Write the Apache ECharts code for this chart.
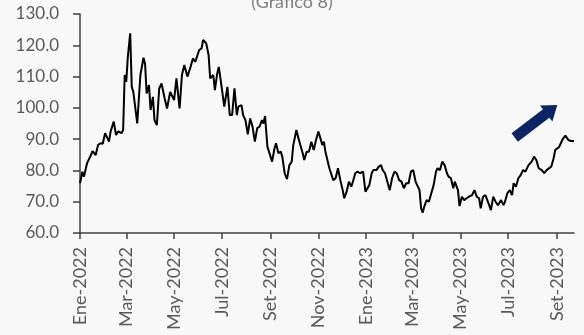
<!DOCTYPE html>
<html>
<head>
<meta charset="utf-8">
<script src="https://cdn.jsdelivr.net/npm/echarts@6/dist/echarts.min.js"></script>
<style>
html,body{margin:0;padding:0;background:#f8f8f8;}
#c{width:584px;height:335px;}
</style>
</head>
<body>
<div id="c"></div>
<script>
const titleText = '(Gráfico 8)';
const monthNames = ['Ene','Feb','Mar','Abr','May','Jun','Jul','Ago','Set','Oct','Nov','Dic'];
const yTicks = [60, 70, 80, 90, 100, 110, 120, 130];
const dates = [
'2022-01-01','2022-01-04','2022-01-06','2022-01-08','2022-01-10','2022-01-14','2022-01-17','2022-01-21','2022-01-24','2022-01-27','2022-01-30',
'2022-02-02','2022-02-07','2022-02-09','2022-02-13','2022-02-16','2022-02-19','2022-02-23','2022-02-25','2022-02-27',
'2022-03-01','2022-03-03','2022-03-06','2022-03-08','2022-03-10','2022-03-15','2022-03-19','2022-03-23','2022-03-25','2022-03-27','2022-03-30',
'2022-04-01','2022-04-04','2022-04-06','2022-04-09','2022-04-12','2022-04-15','2022-04-19','2022-04-22','2022-04-26',
'2022-05-01','2022-05-04','2022-05-08','2022-05-11','2022-05-14','2022-05-18','2022-05-22','2022-05-25','2022-05-28',
'2022-06-02','2022-06-05','2022-06-07','2022-06-11','2022-06-14','2022-06-16','2022-06-20','2022-06-22','2022-06-25','2022-06-27','2022-06-30',
'2022-07-04','2022-07-08','2022-07-11','2022-07-14','2022-07-17','2022-07-20','2022-07-22','2022-07-26','2022-07-28','2022-07-31',
'2022-08-03','2022-08-06','2022-08-09','2022-08-12','2022-08-15','2022-08-18','2022-08-21','2022-08-23','2022-08-25','2022-08-28','2022-08-30',
'2022-09-03','2022-09-06','2022-09-08','2022-09-11','2022-09-14','2022-09-16','2022-09-19','2022-09-22','2022-09-25','2022-09-28','2022-09-30',
'2022-10-04','2022-10-06','2022-10-09','2022-10-12','2022-10-14','2022-10-17','2022-10-20','2022-10-23','2022-10-26','2022-10-29',
'2022-11-01','2022-11-03','2022-11-06','2022-11-08','2022-11-10','2022-11-12','2022-11-15','2022-11-17','2022-11-20','2022-11-23','2022-11-26','2022-11-29',
'2022-12-02','2022-12-04','2022-12-07','2022-12-10','2022-12-13','2022-12-15','2022-12-18','2022-12-21','2022-12-24','2022-12-28','2022-12-31',
'2023-01-02','2023-01-05','2023-01-08','2023-01-10','2023-01-14','2023-01-17','2023-01-20','2023-01-22','2023-01-25','2023-01-28','2023-01-31',
'2023-02-03','2023-02-06','2023-02-09','2023-02-12','2023-02-15','2023-02-18','2023-02-21','2023-02-24','2023-02-27',
'2023-03-02','2023-03-05','2023-03-07','2023-03-10','2023-03-12','2023-03-14','2023-03-16','2023-03-19','2023-03-22','2023-03-25','2023-03-28','2023-03-31',
'2023-04-02','2023-04-05','2023-04-08','2023-04-11','2023-04-14','2023-04-16','2023-04-19','2023-04-22','2023-04-24','2023-04-28','2023-04-30',
'2023-05-03','2023-05-06','2023-05-09','2023-05-12','2023-05-16','2023-05-19','2023-05-22','2023-05-25','2023-05-27','2023-05-30',
'2023-06-02','2023-06-06','2023-06-09','2023-06-12','2023-06-15','2023-06-18','2023-06-22','2023-06-25','2023-06-27','2023-06-30',
'2023-07-03','2023-07-06','2023-07-08','2023-07-11','2023-07-14','2023-07-17','2023-07-20','2023-07-23','2023-07-27','2023-07-31',
'2023-08-03','2023-08-06','2023-08-09','2023-08-13','2023-08-16','2023-08-19','2023-08-21','2023-08-25','2023-08-28','2023-08-30',
'2023-09-01','2023-09-04','2023-09-06','2023-09-09','2023-09-12','2023-09-16','2023-09-19','2023-09-23'
];
const values = [
75.9,79.6,78.0,78.3,82.3,84.4,86.2,84.9,88.1,88.7,88.5,
91.9,89.2,92.4,95.6,91.3,92.5,91.9,92.9,110.5,
108.3,116.3,123.8,106.7,105.1,95.0,110.5,116.0,114.0,104.6,107.3,
99.3,103.5,96.1,94.5,106.2,107.8,103.0,99.8,105.1,
102.5,109.4,99.8,110.5,113.7,110.0,113.1,115.8,114.7,
118.5,119.0,121.7,120.6,116.9,109.4,110.5,105.7,111.0,113.1,107.8,
100.4,106.7,97.7,97.7,106.2,97.7,100.4,100.9,97.7,96.1,
91.5,96.6,94.0,89.2,93.5,94.0,96.1,95.0,97.4,87.6,87.0,
82.8,87.0,88.7,85.5,86.0,84.4,79.1,77.2,81.7,82.8,88.1,
92.9,90.8,88.1,85.5,83.3,86.0,86.0,89.2,86.5,89.7,
92.4,90.8,88.1,89.2,86.0,86.0,80.7,80.1,76.9,77.5,80.7,76.9,
73.7,71.1,73.2,76.4,74.8,76.4,79.1,79.6,79.1,79.6,73.2,
73.7,75.3,79.1,80.1,80.1,81.2,81.7,80.1,79.1,76.4,73.7,
77.5,79.6,79.1,76.9,76.4,74.3,75.9,75.9,79.6,
80.1,76.4,75.3,73.7,67.9,66.5,68.4,70.5,70.0,72.7,75.3,79.6,
80.7,80.1,82.8,81.7,79.1,78.0,77.5,74.3,76.4,73.7,68.6,
71.6,70.5,71.1,71.6,72.1,73.7,71.6,71.1,67.9,71.6,
72.1,69.5,67.3,71.6,70.0,68.9,70.5,68.9,70.0,72.7,
73.7,72.1,75.9,74.8,77.5,78.5,80.1,79.6,81.7,82.8,
84.4,83.3,80.7,80.1,79.1,80.1,80.7,81.2,83.9,86.5,
87.0,87.5,88.1,90.2,91.1,89.7,89.4,89.4
];

// full calendar of days as categories
function pad(n){return n<10?'0'+n:''+n;}
const categories = [];
{
  const start = Date.UTC(2022,0,1), end = Date.UTC(2023,8,23);
  for (let t = start; t <= end; t += 86400000) {
    const d = new Date(t);
    categories.push(d.getUTCFullYear()+'-'+pad(d.getUTCMonth()+1)+'-'+pad(d.getUTCDate()));
  }
}
const seriesData = categories.map(() => null);
dates.forEach((d, i) => { const k = categories.indexOf(d); if (k >= 0) seriesData[k] = values[i]; });

function isTickDay(idx, val) {
  const m = parseInt(val.slice(5,7),10);
  return val.slice(8,10) === '01' && (m % 2 === 1);
}

const chart = echarts.init(document.getElementById('c'), null, {renderer:'canvas'});
const FONT = 'Lato, "Open Sans", sans-serif';
const option = {
  backgroundColor: '#f8f8f8',
  animation: false,
  title: {
    text: titleText, left: 'center', top: -12,
    textStyle: {color:'#7f7f7f', fontSize: 18, fontWeight:'normal', fontFamily: FONT}
  },
  grid: {left: 80, right: 10, top: 14, bottom: 102, containLabel: false},
  xAxis: {
    type: 'category',
    data: categories,
    boundaryGap: false,
    axisLine: {show: true, lineStyle: {color:'#404040', width: 1.5}},
    axisTick: {show: true, interval: isTickDay, length: 6, lineStyle: {color:'#404040', width: 1.5}},
    axisLabel: {
      interval: isTickDay, rotate: 90, margin: 14,
      color: '#595959', fontSize: 18, fontFamily: FONT,
      formatter: function (val) {
        const m = parseInt(val.slice(5,7),10);
        return monthNames[m-1] + '-' + val.slice(0,4);
      }
    },
    splitLine: {show: false}
  },
  yAxis: {
    type: 'value', min: yTicks[0], max: yTicks[yTicks.length-1], interval: 10,
    axisLine: {show: true, lineStyle: {color:'#404040', width: 1.5}},
    axisTick: {show: true, length: 7, lineStyle: {color:'#404040', width: 1.5}},
    axisLabel: {color:'#595959', fontSize: 17, fontFamily: FONT, margin: 21,
      formatter: v => v.toFixed(1)},
    splitLine: {show: false}
  },
  series: [{
    type: 'line',
    data: seriesData,
    connectNulls: true,
    showSymbol: false,
    symbol: 'none',
    lineStyle: {color:'#000000', width: 2},
    z: 3
  }]
};
chart.setOption(option);

// decorative block arrow (annotation)
(function(){
  const T = [514.7, 137.5], tip = [557.3, 105];
  const dx = tip[0]-T[0], dy = tip[1]-T[1];
  const L = Math.sqrt(dx*dx+dy*dy);
  const u = [dx/L, dy/L], n = [-u[1], u[0]];
  const h = 14, w = 5.2, W = 10.2;
  const B = [T[0]+u[0]*(L-h), T[1]+u[1]*(L-h)];
  const pts = [
    [T[0]+n[0]*w, T[1]+n[1]*w],
    [B[0]+n[0]*w, B[1]+n[1]*w],
    [B[0]+n[0]*W, B[1]+n[1]*W],
    tip,
    [B[0]-n[0]*W, B[1]-n[1]*W],
    [B[0]-n[0]*w, B[1]-n[1]*w],
    [T[0]-n[0]*w, T[1]-n[1]*w]
  ];
  chart.setOption({graphic: [{type:'polygon', shape:{points: pts}, style:{fill:'#0c2461'}, z: 10}]});
})();
</script>
</body>
</html>
